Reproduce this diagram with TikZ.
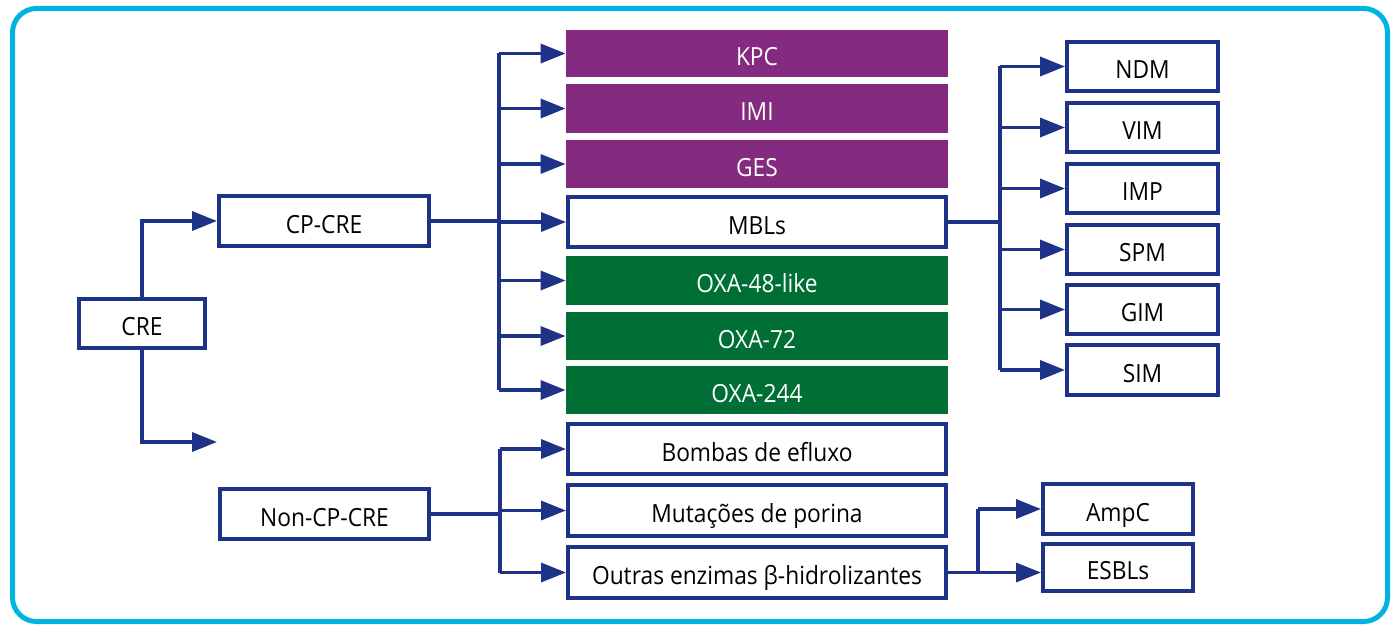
\documentclass[tikz,border=0pt]{standalone}
\usepackage{fontspec}
\setmainfont{Open Sans}[FakeStretch=0.91]
\usetikzlibrary{arrows.meta}
\definecolor{navy}{RGB}{30,50,135}
\definecolor{purp}{RGB}{132,42,128}
\definecolor{grn}{RGB}{0,111,53}
\definecolor{frame}{RGB}{0,180,226}
\begin{document}
\begin{tikzpicture}[x=0.5pt,y=-0.5pt,
  font=\fontsize{12.5}{14}\selectfont,
  every node/.style={text height=12pt,text depth=0pt},
  wbox/.style={draw=navy,line width=2pt,fill=white,text=black,inner sep=0pt,
    minimum width=#1*0.5pt-2pt},
  pbox/.style={fill=purp,text=white,inner sep=0pt,minimum width=382*0.5pt,minimum height=48*0.5pt},
  gbox/.style={fill=grn,text=white,inner sep=0pt,minimum width=382*0.5pt,minimum height=48*0.5pt},
  hh/.style={minimum height=#1*0.5pt-2pt},
  conn/.style={draw=navy,line width=1.75pt},
  arr/.style={conn,-{Triangle[length=12.5pt,width=9.5pt]}}]
\useasboundingbox (0,0) rectangle (1400,631);
\draw[frame,line width=2.5pt,rounded corners=12pt] (12.5,8.5) rectangle (1387.5,621.5);
% left
\node[wbox=130,hh=53] (cre) at (142,323.5) {CRE};
\node[wbox=214,hh=54] (cpcre) at (324,221) {CP-CRE};
\node[wbox=213,hh=54] (noncp) at (324.5,514) {Non-CP-CRE};
\coordinate (nonend) at (217,442);
% middle
\node[pbox,minimum height=47*0.5pt] (kpc) at (757,53.5) {KPC};
\node[pbox,minimum height=49*0.5pt] (imi) at (757,108.5) {IMI};
\node[pbox] (ges) at (757,164) {GES};
\node[wbox=382,hh=54] (mbls) at (757,222) {MBLs};
\node[gbox,minimum height=49*0.5pt] (oxa48) at (757,280.5) {OXA-48-like};
\node[gbox] (oxa72) at (757,336) {OXA-72};
\node[gbox] (oxa244) at (757,390) {OXA-244};
\node[wbox=382,hh=54] (bomb) at (757,449) {Bombas de efluxo};
\node[wbox=382,hh=55] (mut) at (757,510.5) {Mutações de porina};
\node[wbox=382,hh=55] (outr) at (757,572.5) {Outras enzimas β-hidrolizantes};
% right
\node[wbox=155,hh=53] (ndm) at (1142.5,66.5) {NDM};
\node[wbox=155,hh=53] (vim) at (1142.5,127.5) {VIM};
\node[wbox=155,hh=53] (imp) at (1142.5,188.5) {IMP};
\node[wbox=155,hh=53] (spm) at (1142.5,249.5) {SPM};
\node[wbox=155,hh=53] (gim) at (1142.5,309.5) {GIM};
\node[wbox=155,hh=54] (sim) at (1142.5,370) {SIM};
\node[wbox=154,hh=54] (ampc) at (1118,509) {AmpC};
\node[wbox=154,hh=51] (esbl) at (1118,567.5) {ESBLs};
% trunk coordinates
\coordinate (t1) at (499,0);
\coordinate (t2) at (1000,0);
\coordinate (t3) at (500,0);
\coordinate (t4) at (978,0);
% CRE connectors
\draw[arr] (cre.north) |- (cpcre.west);
\draw[arr] (cre.south) |- (nonend);
% CP-CRE
\draw[conn] (cpcre.east) -- (t1 |- cpcre.east);
\draw[arr] (t1 |- mbls.west) -- (mbls.west);
\draw[conn] (t1 |- kpc.west) -- (t1 |- oxa244.west);
\foreach \n in {kpc,imi,ges,oxa48,oxa72,oxa244}
  \draw[arr] (t1 |- \n.west) -- (\n.west);
% MBLs
\draw[conn] (mbls.east) -- (t2 |- mbls.east);
\draw[conn] (t2 |- ndm.west) -- (t2 |- sim.west);
\foreach \n in {ndm,vim,imp,spm,gim,sim}
  \draw[arr] (t2 |- \n.west) -- (\n.west);
% Non-CP-CRE
\draw[conn] (noncp.east) -- (t3 |- noncp.east);
\draw[arr] (t3 |- mut.west) -- (mut.west);
\draw[conn] (t3 |- bomb.west) -- (t3 |- outr.west);
\draw[arr] (t3 |- bomb.west) -- (bomb.west);
\draw[arr] (t3 |- outr.west) -- (outr.west);
% Outras
\draw[conn] (outr.east) -- (t4 |- outr.east);
\draw[conn] (t4 |- ampc.west) -- (t4 |- outr.east);
\draw[arr] (t4 |- ampc.west) -- (ampc.west);
\draw[arr] (t4 |- outr.east) -- (esbl.west |- outr.east);
\end{tikzpicture}
\end{document}
